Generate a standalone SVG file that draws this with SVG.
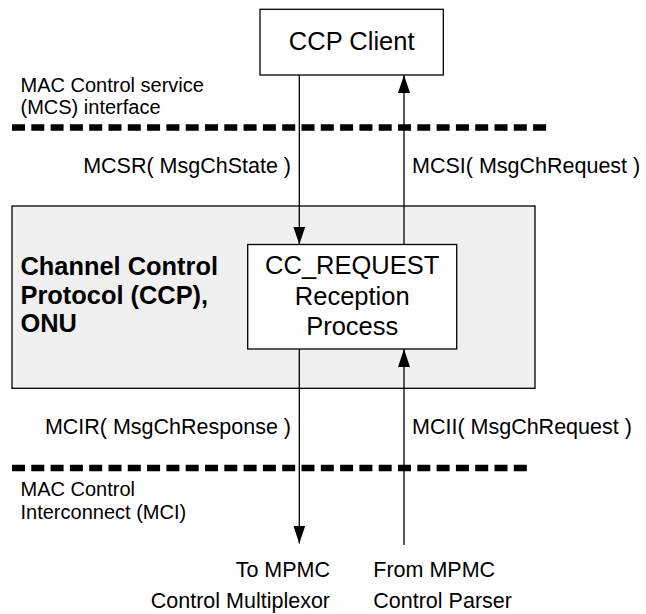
<svg xmlns="http://www.w3.org/2000/svg" width="646" height="614" viewBox="0 0 646 614">
<style>
text{font-family:"Liberation Sans",Arial,sans-serif;fill:#000}
.t{font-size:21.5px}
.s{font-size:20px}
.big{font-size:25.5px}
.b{font-size:25.4px;font-weight:bold}
.box{fill:#fff;stroke:#000;stroke-width:1.3}
.line{stroke:#000;stroke-width:1.3;fill:none}
.dash{stroke:#000;stroke-width:6.3;stroke-dasharray:13 6.3;fill:none}
</style>
<defs>
<marker id="ah" viewBox="0 0 18 12" markerWidth="18" markerHeight="12" refX="18" refY="6" orient="auto" markerUnits="userSpaceOnUse">
<path d="M0,0 L18,6 L0,12 Z" fill="#000"/>
</marker>
</defs>
<g id="ccp-onu">
<rect x="12" y="206" width="523" height="182.3" fill="#f0f0f0" stroke="#000" stroke-width="1.3"/>
<text class="b" x="20.5" y="275">Channel Control</text>
<text class="b" x="20.5" y="303.5">Protocol (CCP),</text>
<text class="b" x="20.5" y="331.5">ONU</text>
</g>
<g id="ccp-client">
<rect class="box" x="260" y="9.3" width="183.3" height="65.7"/>
<text class="big" x="351.7" y="50" text-anchor="middle">CCP Client</text>
</g>
<g id="cc-request">
<rect class="box" x="247.7" y="244.5" width="209" height="104.5"/>
<text class="big" x="352.2" y="274" text-anchor="middle">CC_REQUEST</text>
<text class="big" x="352.2" y="304.5" text-anchor="middle">Reception</text>
<text class="big" x="352.2" y="335" text-anchor="middle">Process</text>
</g>
<g id="interfaces">
<path class="dash" d="M12,127.5 H548"/>
<path class="dash" d="M12,468 H528"/>
<text class="s" x="20.5" y="91.5">MAC Control service</text>
<text class="s" x="20.5" y="114">(MCS) interface</text>
<text class="s" x="20.5" y="496">MAC Control</text>
<text class="s" x="20.5" y="518.5">Interconnect (MCI)</text>
</g>
<g id="connectors">
<path class="line" d="M299.3,75 V244.5" marker-end="url(#ah)"/>
<path class="line" d="M404,244.5 V75" marker-end="url(#ah)"/>
<path class="line" d="M299.3,349 V543.5" marker-end="url(#ah)"/>
<path class="line" d="M404,545 V349" marker-end="url(#ah)"/>
<text class="t" x="291" y="173" text-anchor="end">MCSR( MsgChState )</text>
<text class="t" x="412" y="173">MCSI( MsgChRequest )</text>
<text class="t" x="291" y="433.5" text-anchor="end">MCIR( MsgChResponse )</text>
<text class="t" x="412" y="433.5">MCII( MsgChRequest )</text>
<text class="t" x="330" y="576.7" text-anchor="end">To MPMC</text>
<text class="t" x="330" y="608.3" text-anchor="end">Control Multiplexor</text>
<text class="t" x="373.3" y="576.7">From MPMC</text>
<text class="t" x="373.3" y="608.3">Control Parser</text>
</g>
</svg>
